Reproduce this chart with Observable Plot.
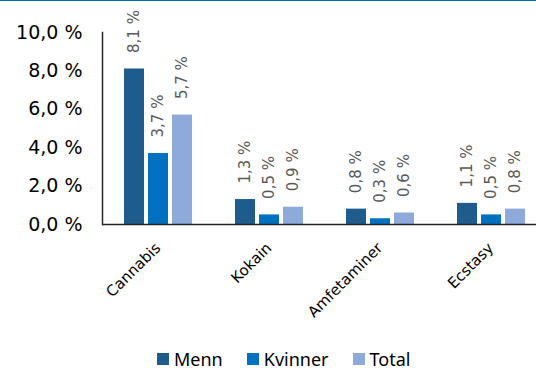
<!DOCTYPE html>
<html>
<head>
<meta charset="utf-8">
<script src="https://cdn.jsdelivr.net/npm/d3@7"></script>
<script src="https://cdn.jsdelivr.net/npm/@observablehq/plot@0.6"></script>
<style>
  html, body { margin: 0; padding: 0; background: #fff; }
  body { width: 536px; height: 369px; border-top: 1px solid #0070C0; overflow: hidden; font-family: "DejaVu Sans", sans-serif; }
  #chart svg { display: block; }
  #legend { padding-left: 157px; padding-top: 18px; }
  #legend > div { min-height: 0 !important; margin: 0 !important; line-height: 20px; }
  #legend span { margin-right: 24px; font-size: 18px; color: #000; line-height: 20px; }
  #legend span svg { margin-right: 5px; }
</style>
</head>
<body>
<div id="chart"></div>
<div id="legend"></div>
<script>
const categories = ["Cannabis", "Kokain", "Amfetaminer", "Ecstasy"];
const series = ["Menn", "Kvinner", "Total"];
const menn = [8.1, 1.3, 0.8, 1.1];
const kvinner = [3.7, 0.5, 0.3, 0.5];
const total = [5.7, 0.9, 0.6, 0.8];
const yTicks = [0, 2, 4, 6, 8, 10];
const colors = ["#1F5C8E", "#0070C0", "#8EAADB"];

const values = [menn, kvinner, total];
const data = [];
categories.forEach((c, i) => series.forEach((s, j) => data.push({category: c, series: s, value: values[j][i]})));

const pct = v => v.toFixed(1).replace(".", ",") + " %";

const plot = Plot.plot({
  width: 536,
  height: 330,
  marginTop: 31,
  marginBottom: 107,
  marginLeft: 102,
  marginRight: 0,
  style: {fontFamily: "DejaVu Sans, sans-serif", background: "#fff"},
  fx: {domain: categories, range: [102, 546], padding: 0, label: null},
  x: {domain: series, paddingInner: 0.184, paddingOuter: 0.857, axis: null},
  y: {domain: [0, 10], label: null},
  color: {domain: series, range: colors},
  marks: [
    Plot.axisY({ticks: yTicks, tickFormat: pct, tickSize: 0, tickPadding: 20, fontSize: 19, fill: "#000", label: null}),
    Plot.axisFx({anchor: "bottom", tickRotate: -45, tickSize: 0, tickPadding: 21, fontSize: 15, fill: "#000", label: null}),
    Plot.barY(data, {fx: "category", x: "series", y: "value", fill: "series"}),
    Plot.text(data, {fx: "category", x: "series", y: "value", text: d => pct(d.value), rotate: -90, textAnchor: "start", dy: -16, fill: "#595959", fontSize: 15}),
    Plot.ruleY([0], {stroke: "#262626", strokeWidth: 1.5}),
    Plot.frame({anchor: "left", facetAnchor: "left", stroke: "#262626", strokeWidth: 1.5})
  ]
});
document.getElementById("chart").appendChild(plot);

const legend = Plot.legend({color: {domain: series, range: colors}, legend: "swatches", swatchSize: 12});
document.getElementById("legend").appendChild(legend);
</script>
</body>
</html>
